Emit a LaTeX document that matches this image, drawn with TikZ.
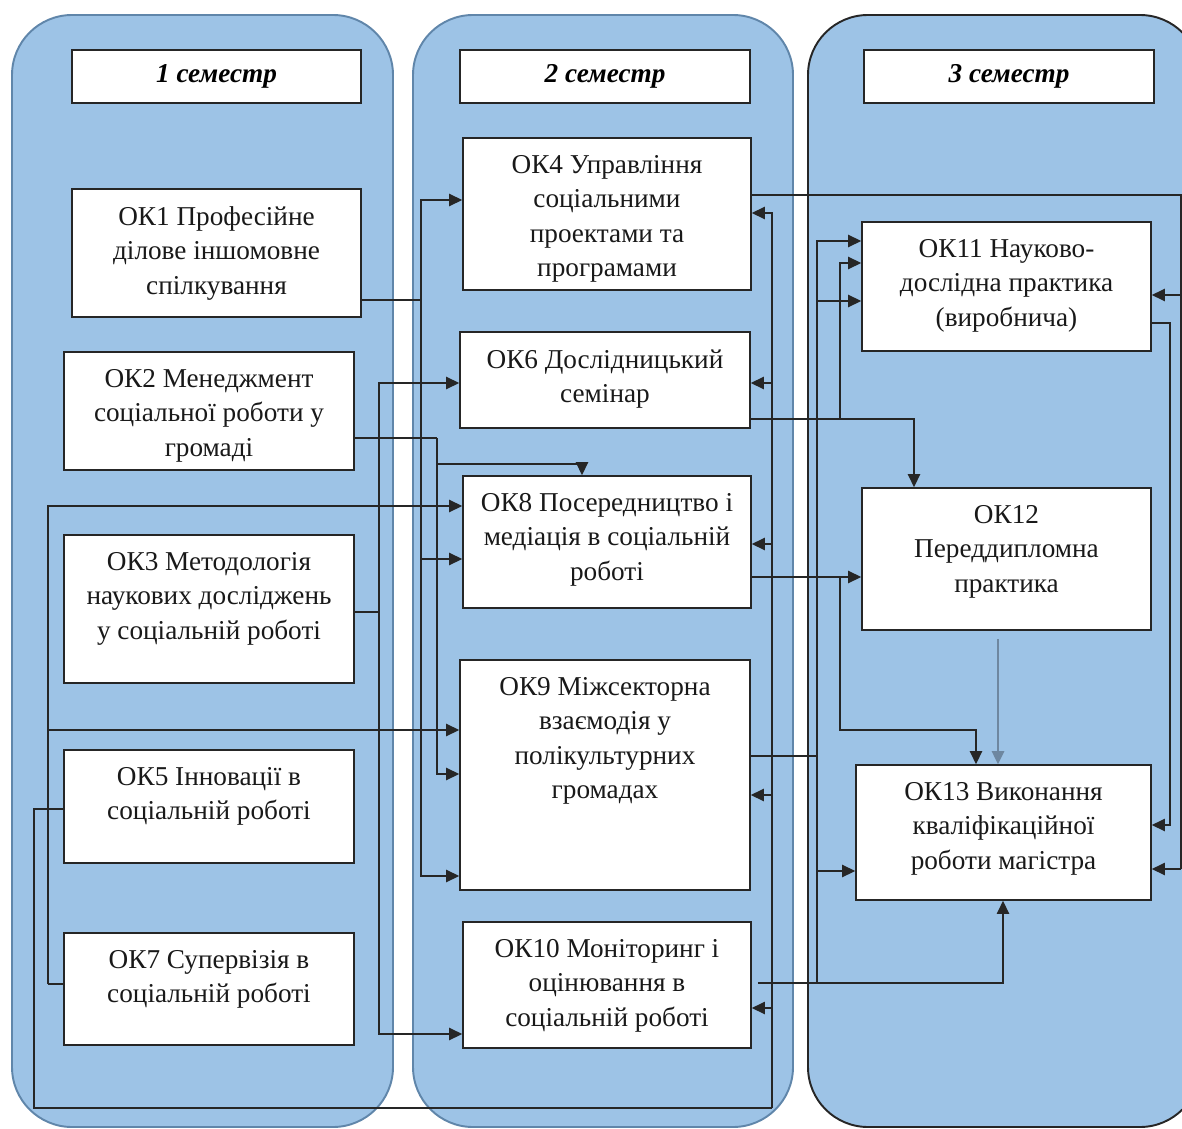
\documentclass[tikz,border=0pt]{standalone}
\usepackage{fontspec}
\setmainfont{Liberation Serif}
\usetikzlibrary{arrows.meta}

\definecolor{semfill}{RGB}{157,195,230}
\definecolor{semline}{RGB}{96,134,170}
\definecolor{linkgray}{RGB}{110,135,160}

\tikzset{
  semester/.style={fill=semfill, draw=semline, line width=1.1pt, rounded corners=1.2cm},
  okbox/.style 2 args={draw=black!85, fill=white, line width=0.85pt, inner sep=0pt,
    minimum width=#1*0.02cm, minimum height=#2*0.02cm},
  boxtext/.style={anchor=north, align=center, inner sep=0pt, text=black!90,
    font=\fontsize{15.5}{19.5}\selectfont},
  headtext/.style={font=\fontsize{15.5}{18}\selectfont\bfseries\itshape},
  link/.style={draw=black!85, line width=0.85pt},
  arr/.style={link, -{Triangle[length=7.5pt,width=7pt]}},
}

\begin{document}
\begin{tikzpicture}[x=0.02cm, y=-0.02cm]
  \useasboundingbox (0,0) rectangle (1182,1128);
  \clip (0,0) rectangle (1182,1128);

  %%% semesters
  \draw[semester] (12,15) rectangle (393,1127);
  \draw[semester] (413,15) rectangle (793,1127);
  \draw[semester, draw=black!85] (808,15) rectangle (1200,1127);

  \node[okbox={289}{53}, headtext] (sem1) at (216.5,76.5) {1 семестр};
  \node[okbox={290}{53}, headtext] (sem2) at (605,76.5) {2 семестр};
  \node[okbox={290}{53}, headtext] (sem3) at (1009,76.5) {3 семестр};

  %%% 1 semester
  \node[okbox={289}{128}] (ok1) at (216.5,253) {};
  \node[boxtext] at ([yshift=-0.36cm]ok1.north) {ОК1 Професійне\\ділове іншомовне\\спілкування};
  \node[okbox={290}{118}] (ok2) at (209,411) {};
  \node[boxtext] at ([yshift=-0.36cm]ok2.north) {ОК2 Менеджмент\\соціальної роботи у\\громаді};
  \node[okbox={290}{148}] (ok3) at (209,609) {};
  \node[boxtext] at ([yshift=-0.36cm]ok3.north) {ОК3 Методологія\\наукових досліджень\\у соціальній роботі};
  \node[okbox={290}{113}] (ok5) at (209,806.5) {};
  \node[boxtext] at ([yshift=-0.36cm]ok5.north) {ОК5 Інновації в\\соціальній роботі};
  \node[okbox={290}{112}] (ok7) at (209,989) {};
  \node[boxtext] at ([yshift=-0.36cm]ok7.north) {ОК7 Супервізія в\\соціальній роботі};

  %%% 2 semester
  \node[okbox={288}{152}] (ok4) at (607,214) {};
  \node[boxtext] at ([yshift=-0.36cm]ok4.north) {ОК4 Управління\\соціальними\\проектами та\\програмами};
  \node[okbox={290}{96}] (ok6) at (605,380) {};
  \node[boxtext] at ([yshift=-0.36cm]ok6.north) {ОК6 Дослідницький\\семінар};
  \node[okbox={288}{132}] (ok8) at (607,542) {};
  \node[boxtext] at ([yshift=-0.36cm]ok8.north) {ОК8 Посередництво і\\медіація в соціальній\\роботі};
  \node[okbox={290}{230}] (ok9) at (605,775) {};
  \node[boxtext] at ([yshift=-0.36cm]ok9.north) {ОК9 Міжсекторна\\взаємодія у\\полікультурних\\громадах};
  \node[okbox={288}{126}] (ok10) at (607,985) {};
  \node[boxtext] at ([yshift=-0.36cm]ok10.north) {ОК10 Моніторинг і\\оцінювання в\\соціальній роботі};

  %%% 3 semester
  \node[okbox={289}{129}] (ok11) at (1006.5,286.5) {};
  \node[boxtext] at ([yshift=-0.36cm]ok11.north) {ОК11 Науково-\\дослідна практика\\(виробнича)};
  \node[okbox={289}{142}] (ok12) at (1006.5,559) {};
  \node[boxtext] at ([yshift=-0.36cm]ok12.north) {ОК12\\Переддипломна\\практика};
  \node[okbox={295}{135}] (ok13) at (1003.5,832.5) {};
  \node[boxtext] at ([yshift=-0.36cm]ok13.north) {ОК13 Виконання\\кваліфікаційної\\роботи магістра};

  %%% links from 1 semester
  \coordinate (j1) at (421,300);
  \draw[link, line width=1.5pt] (ok1.east |- j1) -- (j1);
  \draw[arr] (j1) |- (ok4.west |- 0,200);
  \draw[arr] (j1) |- (ok8.west |- 0,559);
  \draw[arr] (j1) |- (ok9.west |- 0,876);

  \coordinate (j2) at (437,438);
  \draw[link] (ok2.east |- j2) -- (j2);
  \draw[arr] (j2) |- (ok9.west |- 0,774);
  \draw[arr] (j2) |- (582,464) -- (ok8.north -| 582,0);

  \coordinate (j3) at (379,612);
  \draw[link] (ok3.east |- j3) -- (j3);
  \draw[arr] (j3) |- (ok6.west |- 0,383);
  \draw[arr] (j3) |- (ok10.west |- 0,1034);

  \coordinate (j7) at (48,984);
  \draw[link] (ok7.west |- j7) -- (j7);
  \draw[arr] (j7) |- (ok8.west |- 0,506);
  \draw[arr] (j7) |- (ok9.west |- 0,730);

  \coordinate (j5) at (34,809);
  \coordinate (j5b) at (772,1108);
  \draw[link] (ok5.west |- j5) -- (j5) |- (j5b);
  \draw[arr] (j5b) |- (ok4.east |- 0,213);
  \foreach \n/\y in {ok6/383, ok8/544, ok9/795, ok10/1008}
    \draw[arr] (j5b |- 0,\y) -- (\n.east |- 0,\y);

  %%% links to 3 semester
  \coordinate (j4) at (1181,195);
  \draw[link] (ok4.east |- j4) -- (j4) -- (1181,869);
  \draw[arr] (j4 |- 0,295) -- (ok11.east |- 0,295);
  \draw[arr] (j4 |- 0,869) -- (ok13.east |- 0,869);

  \draw[arr] (ok11.east |- 0,323) -| (1170,825) -- (ok13.east |- 0,825);

  \coordinate (j6) at (840,419);
  \draw[arr] (ok6.east |- j6) -| (ok12.north -| 914,0);
  \draw[arr] (j6) |- (ok11.west |- 0,263);

  \coordinate (j8) at (840,577);
  \draw[arr] (ok8.east |- j8) -- (ok12.west |- j8);
  \draw[arr] (j8) |- (976,730) -- (ok13.north -| 976,0);

  \coordinate (j9) at (817,756);
  \coordinate (j10) at (817,983);
  \draw[link] (ok9.east |- j9) -- (j9);
  \draw[arr] (j10) |- (ok11.west |- 0,241);
  \draw[arr] (j9 |- 0,301) -- (ok11.west |- 0,301);
  \draw[arr] (j9 |- 0,871) -- (ok13.west |- 0,871);
  \draw[arr] ([xshift=0.12cm]ok10.east |- j10) -| (ok13.south -| 1003,0);

  \draw[arr, draw=linkgray, line width=1.2pt, shorten <=0.16cm] (ok12.south -| 998,0) -- (ok13.north -| 998,0);
\end{tikzpicture}
\end{document}
